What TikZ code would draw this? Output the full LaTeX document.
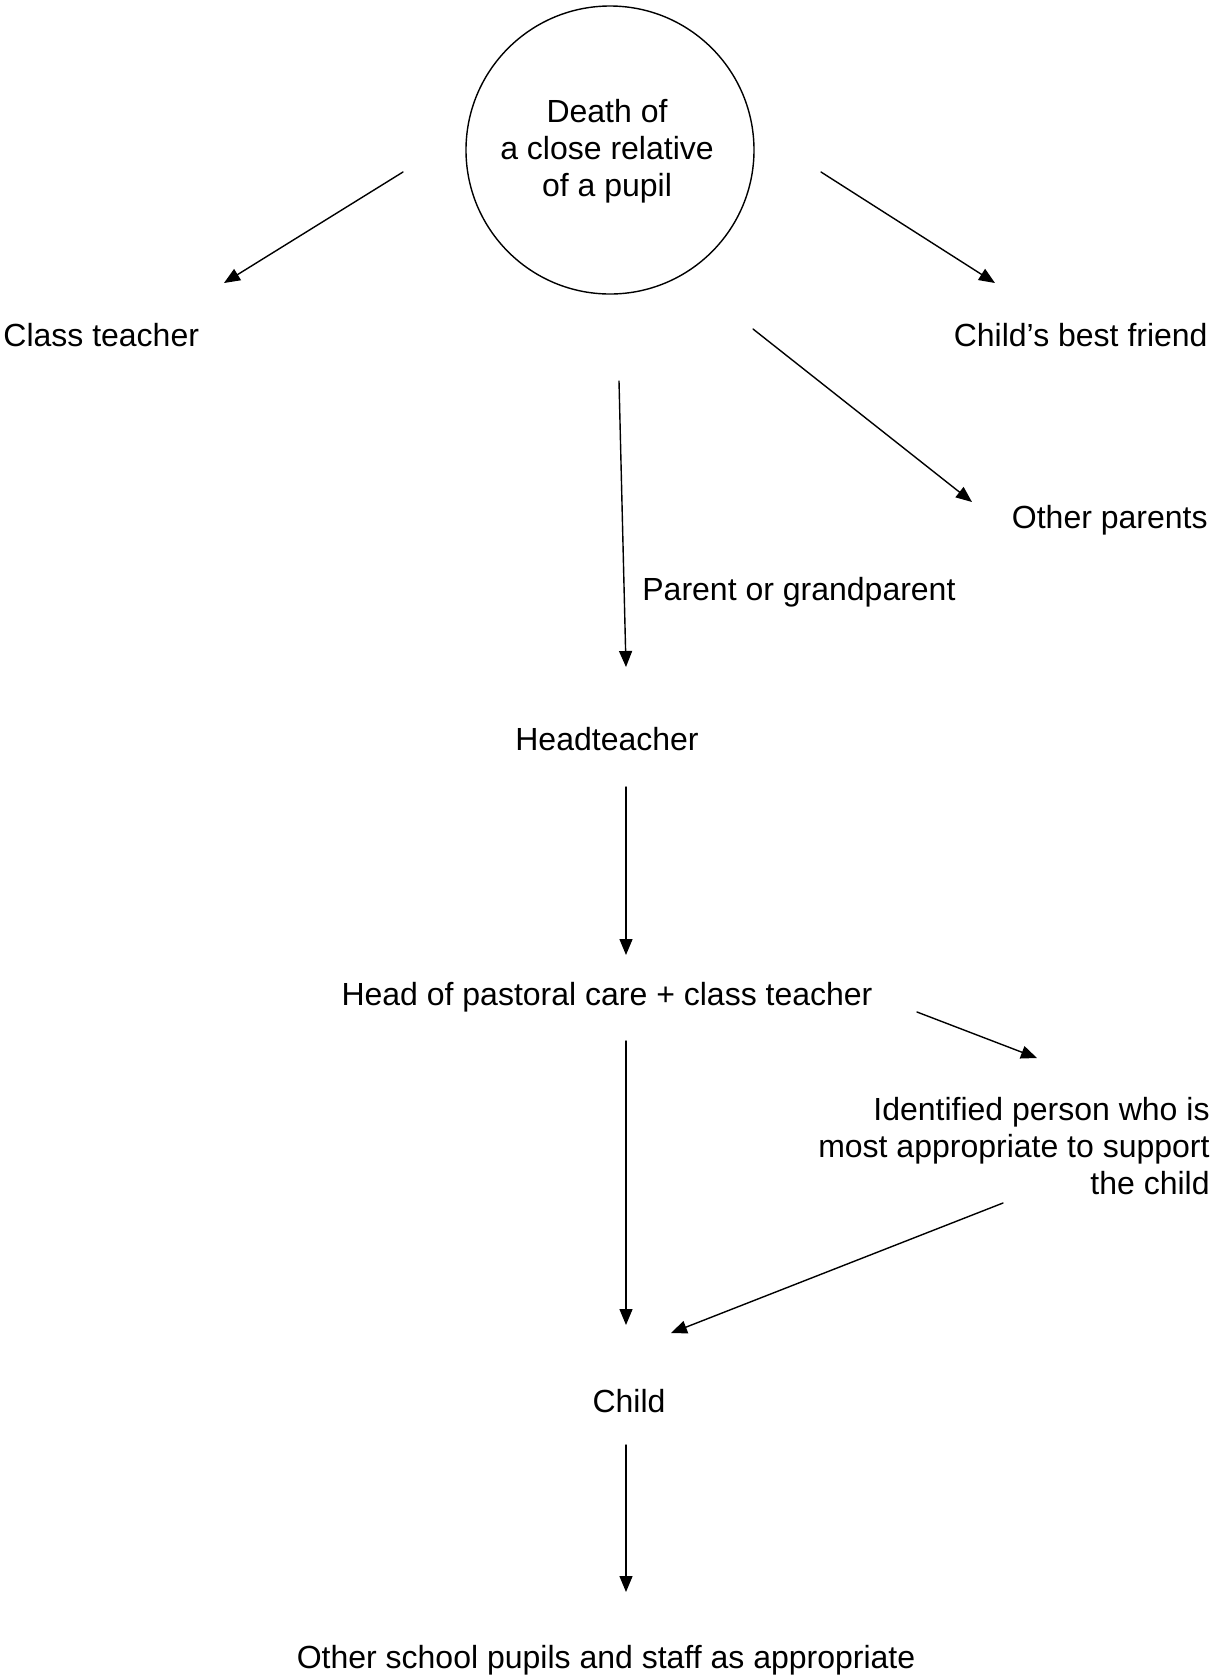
\documentclass[tikz,border=0pt]{standalone}
\usepackage{fontspec}
\setmainfont{Liberation Sans}
\usetikzlibrary{arrows.meta,calc}
\usepackage{tkz-euclide}
\tikzset{flow/.style={-{Triangle[length=8pt,width=6.5pt]},line width=0.7pt,color=black},
  lbl/.style={inner sep=0pt,font=\fontsize{16}{18.5}\selectfont}}

\begin{document}
\begin{tikzpicture}[x=0.5pt,y=-0.5pt]
\useasboundingbox (0,0) rectangle (1212,1677);

\node[lbl,draw,circle,minimum size=144pt,line width=0.7pt] (Death) at (610,150) {};
\node[lbl,align=center] (DeathT) at (607,151) {Death of\\a close relative\\of a pupil};
\node[lbl,anchor=west] (ClassT) at (3,335) {Class teacher};
\node[lbl,anchor=east] (Friend) at (1208,335) {Child’s best friend};
\node[lbl,anchor=east] (Others) at (1208,520) {Other parents};
\node[lbl,anchor=west] (Parent) at (642,592) {Parent or grandparent};
\node[lbl] (Head) at (607,739) {Headteacher};
\node[lbl] (Pastoral) at (607,997) {Head of pastoral care + class teacher};
\node[lbl,anchor=east,align=right] (Ident) at (1210,1146)
  {Identified person who is\\most appropriate to support\\the child};
\node[lbl] (Child) at (629,1401) {Child};
\node[lbl] (School) at (606,1660) {Other school pupils and staff as appropriate};

\tkzDefPoints{403/172/A1,224/283/A2,821/172/B1,995/283/B2}
\tkzDefPoints{753/329/C1,972/502/C2,619/381/D1,626/667/D2}
\tkzDefPoints{626/787/E1,626/955/E2,917/1012/F1,1037/1058/F2}
\tkzDefPoints{626/1041/G1,626/1325/G2,1003/1203/H1,671/1333/H2}
\tkzDefPoints{626/1445/K1,626/1592/K2}

\tkzDrawSegments[flow](A1,A2 B1,B2 C1,C2 D1,D2 E1,E2 F1,F2 G1,G2 H1,H2 K1,K2)

\end{tikzpicture}
\end{document}
